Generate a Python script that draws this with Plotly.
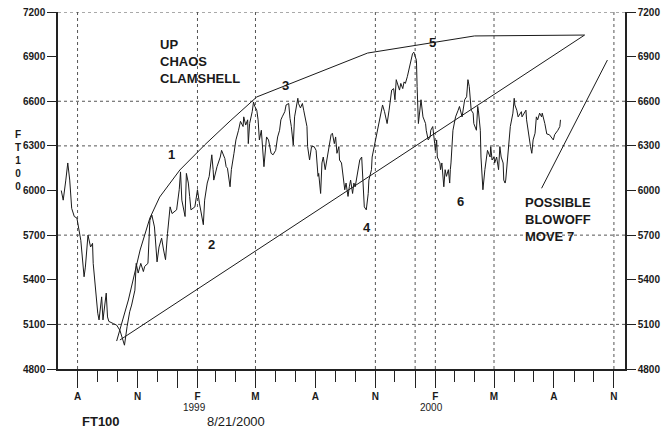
import plotly.graph_objects as go

# ---------------- data ----------------
dates = [
"1998-07-07","1998-07-10","1998-07-14","1998-07-17","1998-07-20","1998-07-23","1998-07-27","1998-07-31",
"1998-08-06","1998-08-11","1998-08-13","1998-08-17","1998-08-21","1998-08-24","1998-08-25","1998-08-28",
"1998-09-01","1998-09-03","1998-09-07","1998-09-09","1998-09-14","1998-09-16","1998-09-18","1998-09-25",
"1998-09-30","1998-10-05","1998-10-08","1998-10-12","1998-10-16","1998-10-20","1998-10-23","1998-10-28",
"1998-10-30","1998-11-02","1998-11-06","1998-11-10","1998-11-12","1998-11-17","1998-11-20","1998-11-23",
"1998-11-27","1998-12-01","1998-12-04","1998-12-08","1998-12-11","1998-12-14","1998-12-17","1998-12-21",
"1998-12-24","1998-12-31","1999-01-04","1999-01-06","1999-01-08","1999-01-13","1999-01-15","1999-01-18",
"1999-01-20","1999-01-22","1999-01-28","1999-02-01","1999-02-04","1999-02-08","1999-02-10","1999-02-12",
"1999-02-16","1999-02-19","1999-02-23","1999-02-25","1999-02-26","1999-03-03","1999-03-08","1999-03-10",
"1999-03-15","1999-03-17","1999-03-19","1999-03-23","1999-03-25","1999-03-29","1999-04-01","1999-04-05",
"1999-04-08","1999-04-12","1999-04-13","1999-04-16","1999-04-19","1999-04-20","1999-04-22","1999-04-26",
"1999-04-28","1999-04-30","1999-05-03","1999-05-05","1999-05-07","1999-05-10","1999-05-13","1999-05-14",
"1999-05-18","1999-05-21","1999-05-25","1999-05-28","1999-06-01","1999-06-04","1999-06-07","1999-06-09",
"1999-06-11","1999-06-15","1999-06-17","1999-06-21","1999-06-23","1999-06-25","1999-06-28","1999-06-30",
"1999-07-05","1999-07-06","1999-07-09","1999-07-12","1999-07-14","1999-07-16","1999-07-19","1999-07-20",
"1999-07-23","1999-07-26","1999-07-30","1999-08-02","1999-08-04","1999-08-05","1999-08-06","1999-08-09",
"1999-08-11","1999-08-13","1999-08-16","1999-08-20","1999-08-23","1999-08-25","1999-08-27","1999-08-30",
"1999-09-01","1999-09-03","1999-09-06","1999-09-07","1999-09-10","1999-09-13","1999-09-15","1999-09-17",
"1999-09-20","1999-09-22","1999-09-24","1999-09-27","1999-09-29","1999-10-01","1999-10-05","1999-10-08",
"1999-10-11","1999-10-13","1999-10-15","1999-10-18","1999-10-21","1999-10-22","1999-10-26","1999-10-27",
"1999-10-29","1999-11-01","1999-11-03","1999-11-05","1999-11-08","1999-11-10","1999-11-12","1999-11-15",
"1999-11-17","1999-11-19","1999-11-22","1999-11-24","1999-11-26","1999-11-29","1999-12-01","1999-12-03",
"1999-12-06","1999-12-08","1999-12-10","1999-12-13","1999-12-15","1999-12-17","1999-12-20","1999-12-22",
"1999-12-24","1999-12-28","1999-12-30","2000-01-03","2000-01-04","2000-01-05","2000-01-06","2000-01-10",
"2000-01-11","2000-01-13","2000-01-17","2000-01-18","2000-01-21","2000-01-24","2000-01-25","2000-01-28",
"2000-01-31","2000-02-01","2000-02-03","2000-02-04","2000-02-08","2000-02-09","2000-02-11","2000-02-14",
"2000-02-16","2000-02-18","2000-02-21","2000-02-23","2000-02-24","2000-02-25","2000-02-28","2000-03-02",
"2000-03-03","2000-03-07","2000-03-09","2000-03-13","2000-03-14","2000-03-17","2000-03-20","2000-03-22",
"2000-03-24","2000-03-27","2000-03-30","2000-03-31","2000-04-04","2000-04-06","2000-04-07","2000-04-10",
"2000-04-11","2000-04-13","2000-04-14","2000-04-17","2000-04-20","2000-04-21","2000-04-25","2000-04-26",
"2000-04-28","2000-05-01","2000-05-02","2000-05-05","2000-05-08","2000-05-10","2000-05-12","2000-05-15",
"2000-05-16","2000-05-18","2000-05-19","2000-05-22","2000-05-25","2000-05-26","2000-05-30","2000-06-01",
"2000-06-02","2000-06-05","2000-06-07","2000-06-09","2000-06-12","2000-06-13","2000-06-16","2000-06-19",
"2000-06-20","2000-06-22","2000-06-23","2000-06-26","2000-06-28","2000-06-30","2000-07-03","2000-07-05",
"2000-07-07","2000-07-10","2000-07-13","2000-07-14","2000-07-18","2000-07-20","2000-07-21","2000-07-25",
"2000-07-28","2000-07-31","2000-08-02","2000-08-04","2000-08-07","2000-08-10","2000-08-11",
]
ft100 = [
6000,5935,6070,6185,6070,5880,5825,5815,
5665,5420,5485,5700,5620,5645,5510,5355,
5175,5130,5285,5130,5310,5150,5120,5105,
5095,5060,5015,4960,5085,5185,5230,5330,
5510,5445,5510,5455,5490,5510,5800,5835,
5755,5520,5620,5680,5600,5535,5710,5890,
5845,5870,6005,6125,5935,5825,6115,6050,
5960,5870,5890,6005,5915,5825,5770,5935,
6050,6095,6240,6140,6070,6160,6225,6270,
6215,6160,6150,6025,6140,6250,6340,6405,
6465,6430,6495,6440,6475,6315,6450,6530,
6595,6565,6540,6475,6340,6405,6250,6160,
6360,6340,6250,6240,6270,6360,6405,6475,
6495,6530,6575,6585,6485,6430,6305,6495,
6620,6585,6555,6585,6540,6485,6430,6295,
6205,6295,6295,6270,6160,6095,6115,5980,
6185,6225,6140,6250,6315,6375,6385,6315,
6360,6250,6295,6205,6185,6095,6005,6050,
5960,6025,6070,5980,6050,6025,6140,6205,
6225,6005,5890,5870,5980,6070,6140,6225,
6270,6315,6360,6405,6475,6540,6575,6530,
6475,6450,6540,6610,6675,6685,6610,6745,
6710,6675,6720,6685,6730,6720,6765,6810,
6830,6920,6930,6875,6700,6565,6450,6610,
6565,6495,6450,6405,6340,6360,6405,6430,
6315,6270,6340,6225,6185,6140,6185,6025,
6140,6095,6140,6050,6140,6185,6405,6475,
6495,6540,6565,6495,6520,6610,6630,6745,
6700,6540,6520,6450,6405,6565,6540,6405,
6225,6115,6005,6140,6250,6270,6225,6295,
6205,6225,6185,6225,6140,6295,6225,6185,
6070,6050,6070,6225,6340,6430,6520,6620,
6575,6540,6495,6510,6530,6495,6520,6540,
6475,6405,6385,6295,6250,6340,6385,6495,
6475,6520,6495,6520,6450,6385,6380,6375,
6360,6340,6375,6385,6405,6430,6475,
]

# clamshell: upper envelope and lower trend line (hand-drawn on the original)
upper_dates = ["1998-09-30","1998-10-18","1998-11-05","1998-11-20","1998-12-05","1999-01-05",
               "1999-02-12","1999-03-23","1999-05-03","1999-10-20","2000-04-01","2000-09-17"]
upper_vals = [4988,5264,5600,5815,5956,6138,6306,6467,6629,6924,7039,7045]
lower_dates = ["1998-10-05","2000-09-17"]
lower_vals = [4995,7045]
blowoff_dates = ["2000-07-13","2000-10-22"]
blowoff_vals = [6015,6877]

y_ticks = [4800,5100,5400,5700,6000,6300,6600,6900,7200]
h_grid = [5100,5700,6300,6600,7200]
v_grid = ["1998-08-01","1999-02-01","1999-05-01","1999-11-01","2000-01-01","2000-02-01","2000-05-01","2000-11-01"]
x_major = ["1998-08-01","1998-11-01","1999-01-01","1999-02-01","1999-05-01","1999-08-01","1999-11-01",
           "2000-01-01","2000-02-01","2000-05-01","2000-08-01","2000-11-01"]
x_major_text = ["A","N","","F","M","A","N","","F","M","A","N"]
years = ["1999","2000"]
year_pos = ["1999-01-28","2000-01-26"]

FONT = "Liberation Sans, Arial, sans-serif"
INK = "#1a1a1a"

fig = go.Figure()
fig.add_trace(go.Scatter(x=dates, y=ft100, mode="lines",
                         line=dict(color=INK, width=1), showlegend=False, hoverinfo="skip"))
for xs, ys in [(upper_dates, upper_vals), (lower_dates, lower_vals), (blowoff_dates, blowoff_vals)]:
    fig.add_trace(go.Scatter(x=xs, y=ys, mode="lines",
                             line=dict(color=INK, width=1), showlegend=False, hoverinfo="skip"))
# invisible trace for right axis
fig.add_trace(go.Scatter(x=[dates[0]], y=[ft100[0]], yaxis="y2", mode="markers",
                         marker=dict(opacity=0), showlegend=False, hoverinfo="skip"))

shapes = []
for v in h_grid:
    shapes.append(dict(type="line", xref="paper", yref="y", x0=0, x1=1, y0=v, y1=v,
                       line=dict(color="#555", width=1, dash="dot"), layer="below"))
for d in v_grid:
    shapes.append(dict(type="line", xref="x", yref="paper", x0=d, x1=d, y0=0, y1=1,
                       line=dict(color="#555", width=1, dash="dot"), layer="below"))

ann = []
def txt(x, y, s, size=13, xanchor="center", yanchor="middle", xref="x", yref="y", bold=True):
    ann.append(dict(x=x, y=y, xref=xref, yref=yref, text=(f"<b>{s}</b>" if bold else s),
                    showarrow=False, xanchor=xanchor, yanchor=yanchor, align="left",
                    font=dict(family=FONT, size=size, color=INK)))

txt("1998-12-02", 6864, "UP<br>CHAOS<br>CLAMSHELL", xanchor="left")
txt("1998-12-23", 6239, "1")
txt("1999-02-22", 5640, "2")
txt("1999-06-16", 6703, "3")
txt("1999-10-19", 5748, "4")
txt("2000-01-27", 6992, "5")
txt("2000-03-11", 5929, "6")
txt("2000-06-14", 5802, "POSSIBLE<br>BLOWOFF<br>MOVE 7", xanchor="left")
for yr, p in zip(years, year_pos):
    txt(p, -0.107, yr, size=10, xref="x", yref="paper", bold=False)
txt(0.075, -0.147, "FT100", size=13, xref="paper", yref="paper")
txt(0.314, -0.147, "8/21/2000", size=13, xref="paper", yref="paper", bold=False)
ann.append(dict(x=-0.079, y=0.584, xref="paper", yref="paper", text="<b>F<br>T<br>1<br>0<br>0</b>",
                showarrow=False, font=dict(family=FONT, size=10, color=INK), align="center"))

axis_common = dict(range=[4800, 7200], tickvals=y_ticks, ticks="outside", ticklen=9,
                   tickcolor="#222", showline=True, linecolor="#222", linewidth=1.5,
                   showgrid=False, zeroline=False, automargin=False,
                   tickfont=dict(family=FONT, size=10, color=INK, weight="bold"))

fig.update_layout(
    width=670, height=435,
    margin=dict(l=58, r=45, t=12, b=66, autoexpand=False),
    paper_bgcolor="white", plot_bgcolor="white",
    shapes=shapes, annotations=ann,
    xaxis=dict(type="date", range=["1998-07-02", "2000-11-18"],
               tickmode="array", tickvals=x_major, ticktext=x_major_text,
               ticks="outside", ticklen=17, tickcolor="#222", showline=True, linecolor="#222",
               linewidth=1.5, showgrid=False, zeroline=False, automargin=False,
               tickfont=dict(family=FONT, size=10, color=INK, weight="bold"),
               minor=dict(ticks="outside", ticklen=11, tickcolor="#222", dtick="M1",
                          tick0="1998-08-01", showgrid=False)),
    yaxis=dict(side="left", **axis_common),
    yaxis2=dict(side="right", overlaying="y", **axis_common),
)

fig.write_html("out.html", config={"displayModeBar": False},
               post_script="document.body.style.margin='0px';document.body.style.overflow='hidden';")
